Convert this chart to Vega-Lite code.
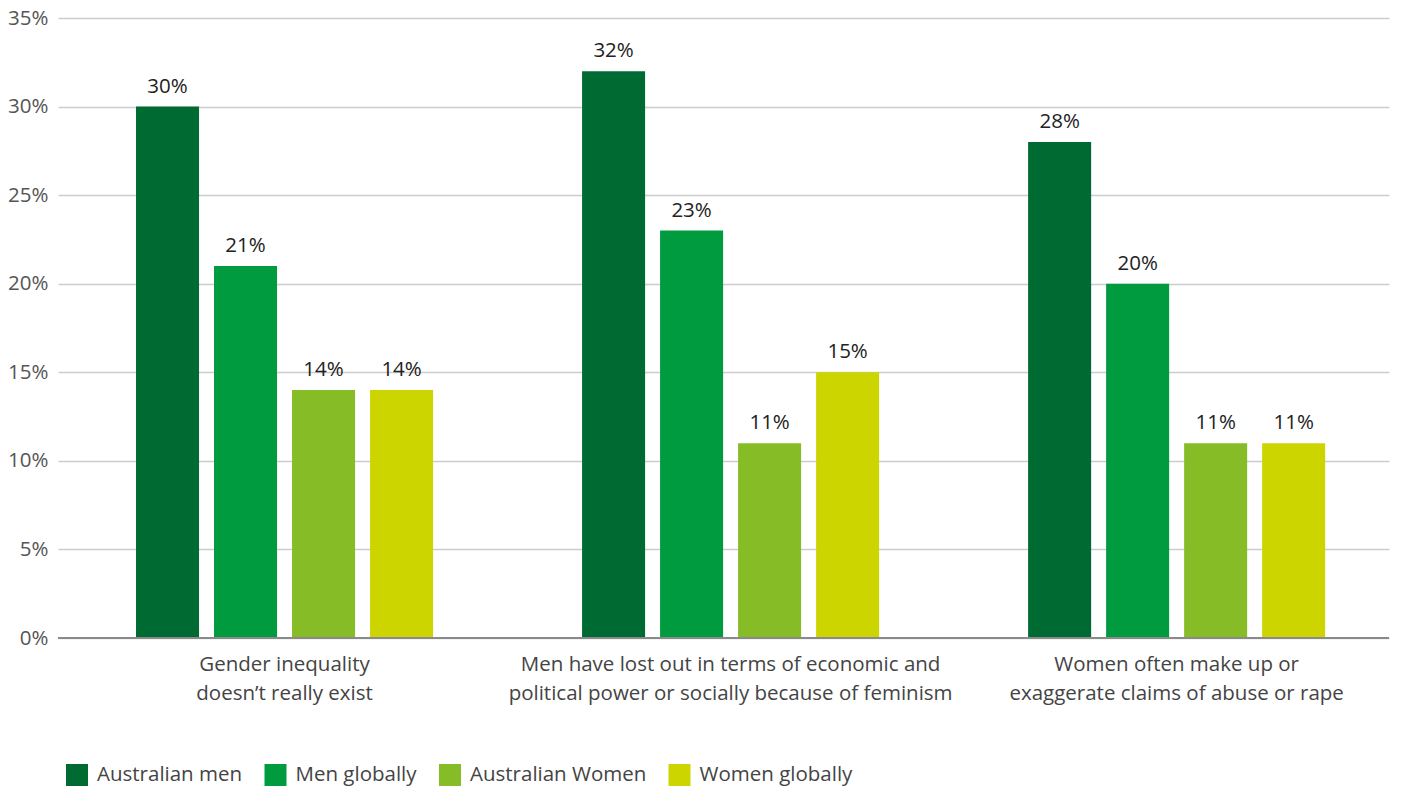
{
  "$schema": "https://vega.github.io/schema/vega-lite/v6.json",
  "width": 1331,
  "height": 620,
  "autosize": {"type": "none"},
  "padding": {"left": 58, "top": 18, "right": 16, "bottom": 149},
  "background": "white",
  "config": {
    "font": "Open Sans",
    "view": {"stroke": null},
    "axis": {"labelFont": "Open Sans", "titleFont": "Open Sans"},
    "legend": {"labelFont": "Open Sans"}
  },
  "data": {
    "values": [
      {"statement": "Gender inequality|doesn’t really exist", "group": "Australian men", "pct": 30},
      {"statement": "Gender inequality|doesn’t really exist", "group": "Men globally", "pct": 21},
      {"statement": "Gender inequality|doesn’t really exist", "group": "Australian Women", "pct": 14},
      {"statement": "Gender inequality|doesn’t really exist", "group": "Women globally", "pct": 14},
      {"statement": "Men have lost out in terms of economic and|political power or socially because of feminism", "group": "Australian men", "pct": 32},
      {"statement": "Men have lost out in terms of economic and|political power or socially because of feminism", "group": "Men globally", "pct": 23},
      {"statement": "Men have lost out in terms of economic and|political power or socially because of feminism", "group": "Australian Women", "pct": 11},
      {"statement": "Men have lost out in terms of economic and|political power or socially because of feminism", "group": "Women globally", "pct": 15},
      {"statement": "Women often make up or|exaggerate claims of abuse or rape", "group": "Australian men", "pct": 28},
      {"statement": "Women often make up or|exaggerate claims of abuse or rape", "group": "Men globally", "pct": 20},
      {"statement": "Women often make up or|exaggerate claims of abuse or rape", "group": "Australian Women", "pct": 11},
      {"statement": "Women often make up or|exaggerate claims of abuse or rape", "group": "Women globally", "pct": 11}
    ]
  },
  "encoding": {
    "x": {
      "field": "statement",
      "type": "nominal",
      "sort": null,
      "scale": {"paddingInner": 0.334, "paddingOuter": 0.159, "align": 0.55},
      "axis": {
        "title": null,
        "labelAngle": 0,
        "ticks": false,
        "domain": false,
        "labelExpr": "split(datum.label, '|')",
        "labelFontSize": 20.5,
        "labelColor": "#444444",
        "labelLineHeight": 29,
        "labelPadding": 16,
        "labelBaseline": "top",
        "labelLimit": 0
      }
    },
    "xOffset": {
      "field": "group",
      "type": "nominal",
      "sort": ["Australian men", "Men globally", "Australian Women", "Women globally"],
      "scale": {"paddingInner": 0.192, "paddingOuter": 0}
    },
    "y": {
      "field": "pct",
      "type": "quantitative",
      "scale": {"domain": [0, 35], "nice": false},
      "axis": {
        "title": null,
        "values": [0, 5, 10, 15, 20, 25, 30, 35],
        "labelExpr": "datum.value + '%'",
        "labelFontSize": 20.5,
        "labelColor": "#555555",
        "labelPadding": 10,
        "ticks": false,
        "domain": false,
        "gridColor": "#cccccc",
        "gridWidth": 1.5
      }
    }
  },
  "layer": [
    {
      "mark": {"type": "bar"},
      "encoding": {
        "color": {
          "field": "group",
          "type": "nominal",
          "sort": ["Australian men", "Men globally", "Australian Women", "Women globally"],
          "scale": {
            "domain": ["Australian men", "Men globally", "Australian Women", "Women globally"],
            "range": ["#006a33", "#009a3f", "#86bc25", "#cdd500"]
          },
          "legend": {
            "title": null,
            "orient": "none",
            "legendX": 8,
            "legendY": 746,
            "direction": "horizontal",
            "symbolType": "square",
            "symbolSize": 484,
            "symbolStrokeWidth": 0,
            "labelFontSize": 20.5,
            "labelColor": "#444444",
            "labelOffset": 9,
            "columnPadding": 21.5,
            "labelLimit": 0
          }
        }
      }
    },
    {
      "mark": {"type": "rule", "color": "#8a8a8a", "strokeWidth": 2},
      "encoding": {"y": {"datum": 0}, "x": null, "xOffset": null}
    },
    {
      "transform": [{"calculate": "datum.pct + '%'", "as": "label"}],
      "mark": {"type": "text", "baseline": "bottom", "dy": -10, "fontSize": 20.5, "color": "#222222"},
      "encoding": {
        "text": {"field": "label", "type": "nominal"}
      }
    }
  ]
}
